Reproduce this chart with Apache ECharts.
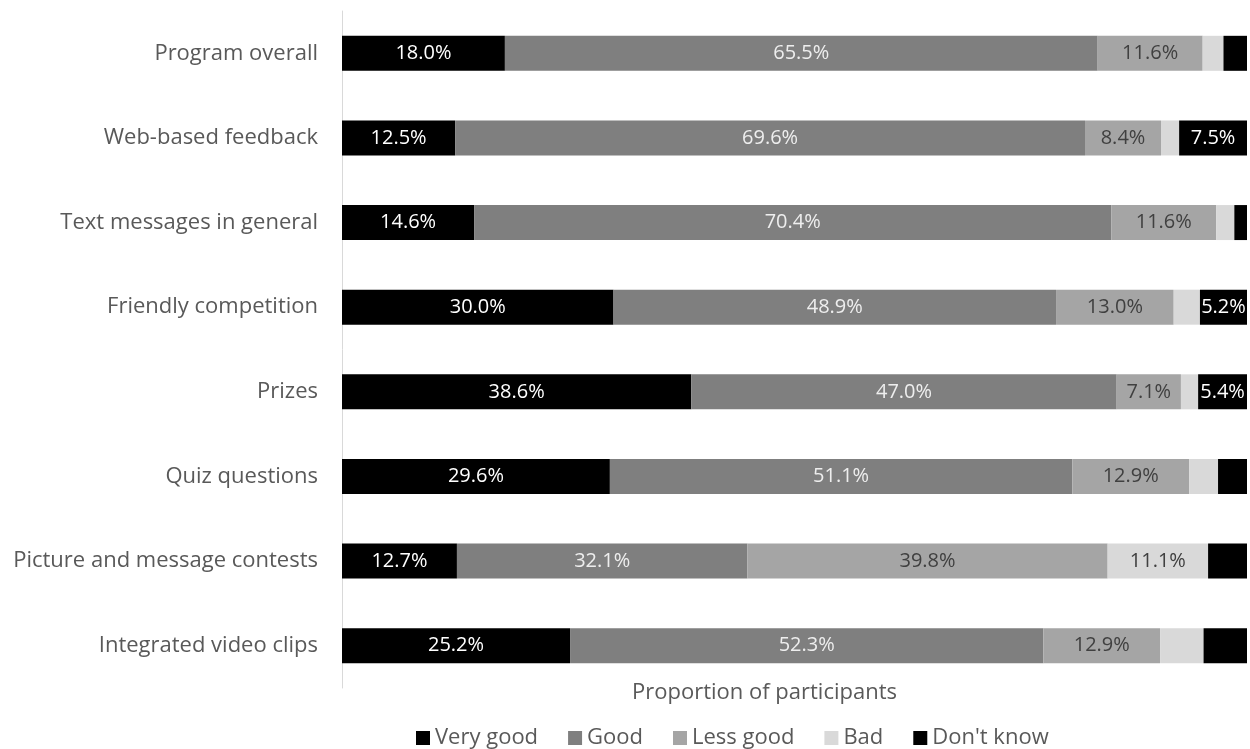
<!DOCTYPE html>
<html>
<head>
<meta charset="utf-8">
<script src="https://cdn.jsdelivr.net/npm/echarts@6/dist/echarts.min.js"></script>
<style>html,body{margin:0;padding:0;background:#fff}#c{width:1250px;height:749px}</style>
</head>
<body>
<div id="c"></div>
<script>
const categories = ["Program overall","Web-based feedback","Text messages in general","Friendly competition","Prizes","Quiz questions","Picture and message contests","Integrated video clips"];
const seriesNames = ["Very good","Good","Less good","Bad","Don't know"];
const veryGood = [18.0,12.5,14.6,30.0,38.6,29.6,12.7,25.2];
const good     = [65.5,69.6,70.4,48.9,47.0,51.1,32.1,52.3];
const lessGood = [11.6,8.4,11.6,13.0,7.1,12.9,39.8,12.9];
const bad      = [2.3,2.0,2.0,2.9,1.9,3.2,11.1,4.8];
const dontKnow = [2.6,7.5,1.4,5.2,5.4,3.2,4.3,4.8];
const allData = [veryGood, good, lessGood, bad, dontKnow];

const colors = ['#000000','#7f7f7f','#a5a5a5','#d9d9d9','#000000'];
const labelColors = ['#ffffff','#eeeeee','#404040','#404040','#ffffff'];
const FONT = 'Open Sans';

const chart = echarts.init(document.getElementById('c'));
chart.setOption({
  animation:false,
  grid:{left:342,right:3,top:11,bottom:61,containLabel:false},
  xAxis:{type:'value',min:0,max:100,show:false},
  yAxis:{type:'category',data:categories,inverse:true,
    axisLine:{show:true,lineStyle:{color:'#d9d9d9',width:1}},
    axisTick:{show:false},
    axisLabel:{color:'#595959',fontSize:22,fontFamily:FONT,margin:24}},
  title:{text:'Proportion of participants',left:627,top:677,
    textStyle:{color:'#595959',fontSize:22,fontWeight:'normal',fontFamily:FONT}},
  legend:{data:seriesNames,left:411,top:722,itemWidth:14,itemHeight:14,itemGap:30,
    icon:'rect',textStyle:{color:'#595959',fontSize:22,fontFamily:FONT}},
  series: seriesNames.map((n,i)=>({
    name:n,type:'bar',stack:'all',barWidth:35,
    itemStyle:{color:colors[i]},
    label:{show:true,position:'inside',color:labelColors[i],fontSize:20,fontFamily:FONT,
      formatter:p=>p.value>=5?p.value.toFixed(1)+'%':''},
    data:allData[i]
  }))
});
</script>
</body>
</html>
